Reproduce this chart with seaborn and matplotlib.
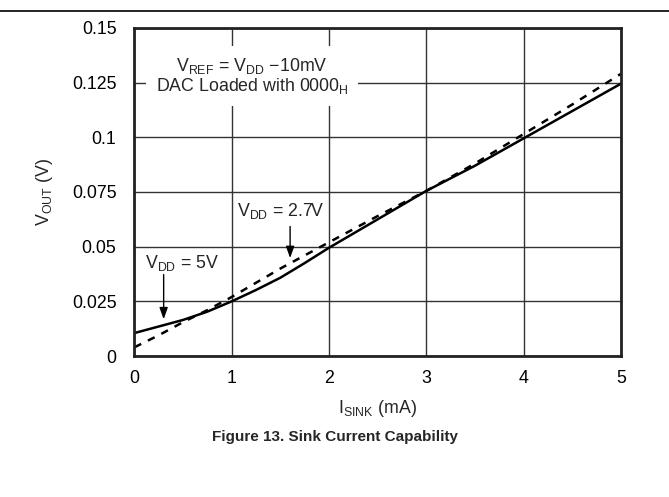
import matplotlib
matplotlib.use("Agg")
import matplotlib.pyplot as plt
from matplotlib.lines import Line2D
import seaborn as sns
import pandas as pd

# Data
i_sink = [0, 0.25, 0.5, 0.75, 1.0, 1.25, 1.5, 1.75, 2.0, 2.5, 3.0, 3.5, 4.0, 4.5, 5.0]
vout_5v = [0.0105, 0.0135, 0.0165, 0.0203, 0.025, 0.0302, 0.0358, 0.0425, 0.0495, 0.0625, 0.0755, 0.087, 0.0995, 0.112, 0.1245]
vout_27v = [0.004, 0.0095, 0.0155, 0.021, 0.027, 0.0335, 0.040, 0.046, 0.0520, 0.064, 0.0755, 0.088, 0.1015, 0.115, 0.129]
x_ticks = [0, 1, 2, 3, 4, 5]
y_ticks = [0, 0.025, 0.05, 0.075, 0.1, 0.125, 0.15]
y_tick_labels = ["0", "0.025", "0.05", "0.075", "0.1", "0.125", "0.15"]

sns.set_style("white")
plt.rcParams["font.family"] = ["Liberation Sans", "DejaVu Sans"]
plt.rcParams["mathtext.default"] = "regular"

df = pd.DataFrame({
    "I": i_sink * 2,
    "V": vout_5v + vout_27v,
    "VDD": ["5V"] * len(i_sink) + ["2.7V"] * len(i_sink),
})

FS = 12.8
fig = plt.figure(figsize=(6.69, 4.97), dpi=100)
ax = fig.add_axes([0.201, 0.2837, 0.727, 0.66])

sns.lineplot(data=df[df.VDD == "5V"], x="I", y="V", ax=ax, color="black", lw=1.8, legend=False)
sns.lineplot(data=df[df.VDD == "2.7V"], x="I", y="V", ax=ax, color="black", lw=1.8,
             linestyle=(0, (3, 3)), legend=False)

ax.set_xlim(0, 5)
ax.set_ylim(0, 0.15)
ax.set_xticks(x_ticks)
ax.set_yticks(y_ticks)
ax.set_yticklabels(y_tick_labels)
ax.tick_params(axis="both", labelsize=FS, length=0, colors="black")
ax.tick_params(axis="x", pad=10)
ax.tick_params(axis="y", pad=13)
ax.grid(True, color="#333333", lw=1.0)
ax.set_axisbelow(True)
for s in ax.spines.values():
    s.set_linewidth(2.0)
    s.set_color("#222222")

ax.set_xlabel(r"I$_{SINK}$ (mA)", fontsize=FS, labelpad=8)
ax.set_ylabel(r"V$_{OUT}$ (V)", fontsize=FS, labelpad=12)

ax.text(1.21, 0.128, "V$_{REF}$ = V$_{DD}$ \u221210mV\nDAC Loaded with 0000$_{H}$",
        ha="center", va="center", fontsize=FS, linespacing=1.0,
        bbox=dict(facecolor="white", edgecolor="none", pad=7), zorder=5)

ax.annotate("", xy=(1.6, 0.0435), xytext=(1.6, 0.0605),
            arrowprops=dict(arrowstyle="-|>,head_length=0.7,head_width=0.25", color="black", lw=1.0))
ax.text(1.5, 0.0665, "V$_{DD}$ = 2.7V", ha="center", va="center", fontsize=FS)

ax.annotate("", xy=(0.3, 0.0155), xytext=(0.3, 0.0385),
            arrowprops=dict(arrowstyle="-|>,head_length=0.7,head_width=0.25", color="black", lw=1.0))
ax.text(0.49, 0.0425, "V$_{DD}$ = 5V", ha="center", va="center", fontsize=FS)

fig.add_artist(Line2D([0, 1], [0.978, 0.978], transform=fig.transFigure, color="black", lw=1.2))
fig.text(0.5, 0.121, "Figure 13. Sink Current Capability", ha="center", va="center",
         fontsize=11, fontweight="bold")

fig.savefig("out.png", dpi=100)
